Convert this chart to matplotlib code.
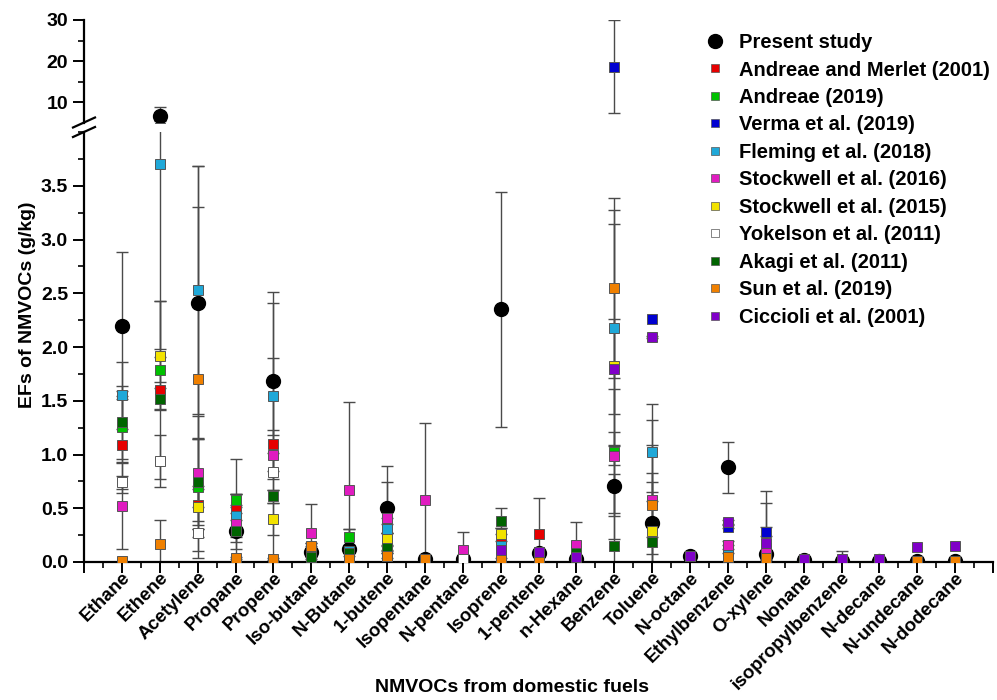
import numpy as np
import matplotlib
matplotlib.use('Agg')
import matplotlib.pyplot as plt
from matplotlib.lines import Line2D
from matplotlib.ticker import MultipleLocator, FixedLocator

plt.rcParams['font.family'] = ['Liberation Sans', 'DejaVu Sans']
plt.rcParams['font.weight'] = 'bold'

nan = np.nan

compounds = ['Ethane', 'Ethene', 'Acetylene', 'Propane', 'Propene', 'Iso-butane',
             'N-Butane', '1-butene', 'Isopentane', 'N-pentane', 'Isoprene',
             '1-pentene', 'n-Hexane', 'Benzene', 'Toluene', 'N-octane',
             'Ethylbenzene', 'O-xylene', 'Nonane', 'isopropylbenzene',
             'N-decane', 'N-undecane', 'N-dodecane']

#            Eta   Ete   Acet  Prpa  Prpe  iBut  nBut  1But  iPen  nPen  Isop  1Pen  nHex  Benz  Tolu  nOct  EtBz  oXyl  Non   iPrB  nDec  nUnd  nDod
present     = [2.20, 6.80, 2.41, 0.29, 1.68, 0.09, 0.12, 0.50, 0.03, 0.03, 2.35, 0.08, 0.03, 0.71, 0.36, 0.06, 0.88, 0.07, 0.02, 0.01, 0.01, 0.01, 0.01]
present_err = [0.68, 2.20, 1.27, 0.67, 0.83, 0.09, 0.19, 0.39, 0.01, 0.01, 1.09, 0.52, 0.01, 0.50, 0.29, 0.01, 0.24, 0.48, 0.01, 0.09, 0.01, 0.01, 0.01]

am          = [1.09, 1.60, 0.53, 0.51, 1.10, nan,  nan,  nan,  nan,  nan,  0.18, 0.26, nan,  nan,  nan,  nan,  nan,  nan,  nan,  nan,  nan,  nan,  nan]
am_err      = [0.45, 0.83, 0.15, 0.12, 1.31, nan,  nan,  nan,  nan,  nan,  0.14, nan,  nan,  nan,  nan,  nan,  nan,  nan,  nan,  nan,  nan,  nan,  nan]

andreae     = [1.26, 1.79, 0.70, 0.58, nan,  0.10, 0.23, 0.34, nan,  nan,  nan,  nan,  0.10, 1.02, nan,  nan,  0.12, nan,  nan,  nan,  nan,  nan,  nan]
andreae_err = [0.33, 0.12, 0.66, 0.05, nan,  0.05, 0.08, 0.07, nan,  nan,  nan,  nan,  nan,  0.59, nan,  nan,  0.04, nan,  nan,  nan,  nan,  nan,  nan]

verma       = [nan,  nan,  nan,  nan,  nan,  nan,  nan,  nan,  nan,  nan,  nan,  nan,  nan,  18.7, 2.26, nan,  0.33, 0.28, nan,  nan,  nan,  nan,  nan]
verma_err   = [nan,  nan,  nan,  nan,  nan,  nan,  nan,  nan,  nan,  nan,  nan,  nan,  nan,  11.2, nan,  nan,  0.01, 0.38, nan,  nan,  nan,  nan,  nan]

fleming     = [1.55, 3.70, 2.53, 0.43, 1.54, nan,  0.10, 0.31, nan,  nan,  0.15, nan,  nan,  2.18, 1.02, nan,  0.10, 0.05, nan,  nan,  nan,  nan,  nan]
fleming_err = [0.31, 1.72, 1.15, 0.20, 0.36, nan,  nan,  0.04, nan,  nan,  nan,  nan,  nan,  1.09, 0.45, nan,  nan,  nan,  nan,  nan,  nan,  nan,  nan]

stock16     = [0.52, nan,  0.83, 0.35, 1.00, 0.27, 0.67, 0.41, 0.58, 0.11, 0.11, 0.09, 0.16, 0.99, 0.58, nan,  0.16, 0.13, nan,  nan,  nan,  nan,  nan]
stock16_err = [0.40, nan,  0.32, 0.16, 0.23, 0.27, 0.82, 0.33, 0.71, 0.17, nan,  nan,  0.21, 0.09, 0.74, nan,  0.04, 0.11, nan,  nan,  nan,  nan,  nan]

stock15     = [nan,  1.92, 0.51, nan,  0.40, nan,  nan,  0.21, nan,  nan,  0.26, nan,  nan,  1.82, 0.29, nan,  nan,  nan,  nan,  nan,  nan,  nan,  nan]
stock15_err = [nan,  0.51, 0.20, nan,  0.15, nan,  nan,  0.06, nan,  nan,  0.06, nan,  nan,  0.44, 0.45, nan,  nan,  nan,  nan,  nan,  nan,  nan,  nan]

yokelson    = [0.74, 0.94, 0.27, nan,  0.84, nan,  nan,  nan,  nan,  0.03, nan,  nan,  nan,  nan,  nan,  nan,  nan,  nan,  nan,  nan,  nan,  nan,  nan]
yokelson_err= [0.06, 0.24, 0.04, nan,  0.17, nan,  nan,  nan,  nan,  nan,  nan,  nan,  nan,  nan,  nan,  nan,  nan,  nan,  nan,  nan,  nan,  nan,  nan]

akagi       = [1.30, 1.52, 0.74, 0.29, 0.61, 0.05, 0.08, 0.13, nan,  nan,  0.38, nan,  0.08, 0.15, 0.19, nan,  nan,  nan,  nan,  nan,  nan,  nan,  nan]
akagi_err   = [0.34, 0.10, 0.40, 0.17, 0.06, 0.02, 0.02, 0.03, nan,  nan,  0.12, nan,  nan,  0.67, 0.90, nan,  nan,  nan,  nan,  nan,  nan,  nan,  nan]

sun         = [0.01, 0.17, 1.70, 0.04, 0.03, 0.15, 0.03, 0.06, 0.03, nan,  0.02, 0.02, nan,  2.55, 0.53, 0.06, 0.05, 0.04, 0.01, 0.01, 0.01, 0.01, 0.01]
sun_err     = [nan,  0.22, 1.60, 0.01, 0.01, 0.03, nan,  0.02, nan,  nan,  nan,  nan,  nan,  0.84, 0.30, nan,  nan,  nan,  nan,  nan,  nan,  nan,  nan]

ciccioli    = [nan,  nan,  nan,  nan,  nan,  nan,  nan,  nan,  nan,  nan,  0.11, 0.09, 0.05, 1.80, 2.09, 0.06, 0.37, 0.18, 0.03, 0.03, 0.03, 0.14, 0.15]
ciccioli_err= [nan,  nan,  nan,  nan,  nan,  nan,  nan,  nan,  nan,  nan,  nan,  nan,  nan,  1.34, 0.01, nan,  0.02, 0.15, nan,  nan,  nan,  nan,  nan]

series = [
    ('Andreae and Merlet (2001)', am, am_err, '#e60000'),
    ('Andreae (2019)', andreae, andreae_err, '#00c000'),
    ('Verma et al. (2019)', verma, verma_err, '#0000d0'),
    ('Fleming et al. (2018)', fleming, fleming_err, '#1fa8d8'),
    ('Stockwell et al. (2016)', stock16, stock16_err, '#e01cc0'),
    ('Stockwell et al. (2015)', stock15, stock15_err, '#f2e200'),
    ('Yokelson et al. (2011)', yokelson, yokelson_err, '#ffffff'),
    ('Akagi et al. (2011)', akagi, akagi_err, '#006400'),
    ('Sun et al. (2019)', sun, sun_err, '#f08000'),
    ('Ciccioli et al. (2001)', ciccioli, ciccioli_err, '#8000c8'),
]

x = np.arange(1, len(compounds) + 1)

W, H = 997, 700
fig = plt.figure(figsize=(W / 100, H / 100), dpi=100)
left, right = 84, 993
ax_lo = fig.add_axes([left / W, 1 - 562 / H, (right - left) / W, (562 - 132) / H])
ax_hi = fig.add_axes([left / W, 1 - 123 / H, (right - left) / W, (123 - 20) / H], sharex=ax_lo)

ebar_kw = dict(fmt='none', ecolor='#4a4a4a', elinewidth=1.0, capsize=4.5, capthick=1.0, zorder=2)

for ax in (ax_lo, ax_hi):
    ax.errorbar(x, present, yerr=present_err, **ebar_kw)
    for name, vals, errs, col in series:
        ax.errorbar(x, vals, yerr=errs, **ebar_kw)
    ax.plot(x, present, 'o', color='black', markersize=10, zorder=3, label='Present study')
    for i, (name, vals, errs, col) in enumerate(series):
        ax.plot(x, vals, 's', color=col, markeredgecolor='#555555', markeredgewidth=0.7,
                markersize=6.5, zorder=4 + i, label=name)

ax_lo.set_xlim(0, 24)
ax_lo.set_ylim(0, 4.0)
ax_hi.set_ylim(5, 30)

for ax in (ax_lo, ax_hi):
    ax.spines['top'].set_visible(False)
    ax.spines['right'].set_visible(False)
    ax.spines['left'].set_linewidth(1.6)
    ax.spines['bottom'].set_linewidth(1.6)
    ax.tick_params(axis='both', which='major', direction='out', length=8, width=1.4, labelsize=14)
    ax.tick_params(axis='both', which='minor', direction='out', length=4, width=1.2)
    ax.set_facecolor('none')

ax_hi.spines['bottom'].set_visible(False)
ax_hi.tick_params(axis='x', which='both', bottom=False, labelbottom=False)
ax_hi.yaxis.set_major_locator(FixedLocator([10, 20, 30]))
ax_hi.yaxis.set_minor_locator(FixedLocator([15, 25]))

ax_lo.yaxis.set_major_locator(FixedLocator([0.0, 0.5, 1.0, 1.5, 2.0, 2.5, 3.0, 3.5]))
ax_lo.yaxis.set_minor_locator(MultipleLocator(0.25))
ax_lo.yaxis.set_major_formatter(plt.FormatStrFormatter('%.1f'))

ax_lo.xaxis.set_major_locator(FixedLocator(np.arange(0, 25)))
ax_lo.xaxis.set_minor_locator(FixedLocator(np.arange(0.5, 24, 1.0)))
ax_lo.set_xticklabels([''] + compounds + [''], rotation=45, ha='right', va='top',
                      rotation_mode='anchor', fontsize=13.5)
ax_lo.tick_params(axis='x', which='major', pad=-3)

# axis break marks on the left spine
for yb in (127.5, 137):
    fig.add_artist(Line2D([73 / W, 95 / W], [1 - yb / H, 1 - (yb - 10) / H],
                          color='black', lw=1.6))

fig.text(28 / W, 1 - 305 / H, 'EFs of NMVOCs (g/kg)', rotation=90, ha='center',
         va='center', fontsize=14, fontweight='bold')
fig.text(512 / W, 1 - 688 / H, 'NMVOCs from domestic fuels', ha='center',
         va='center', fontsize=14, fontweight='bold')

handles, labels = ax_lo.get_legend_handles_labels()
leg = fig.legend(handles, labels, loc='upper left', bbox_to_anchor=(695 / W, 1 - 25 / H),
                 frameon=False, fontsize=14.5, handlelength=1.2, handletextpad=0.6,
                 labelspacing=0.42, borderaxespad=0)
for h in leg.legend_handles[1:]:
    h.set_markeredgewidth(0.5)
    h.set_markersize(6)

fig.savefig('out.png', dpi=100)
